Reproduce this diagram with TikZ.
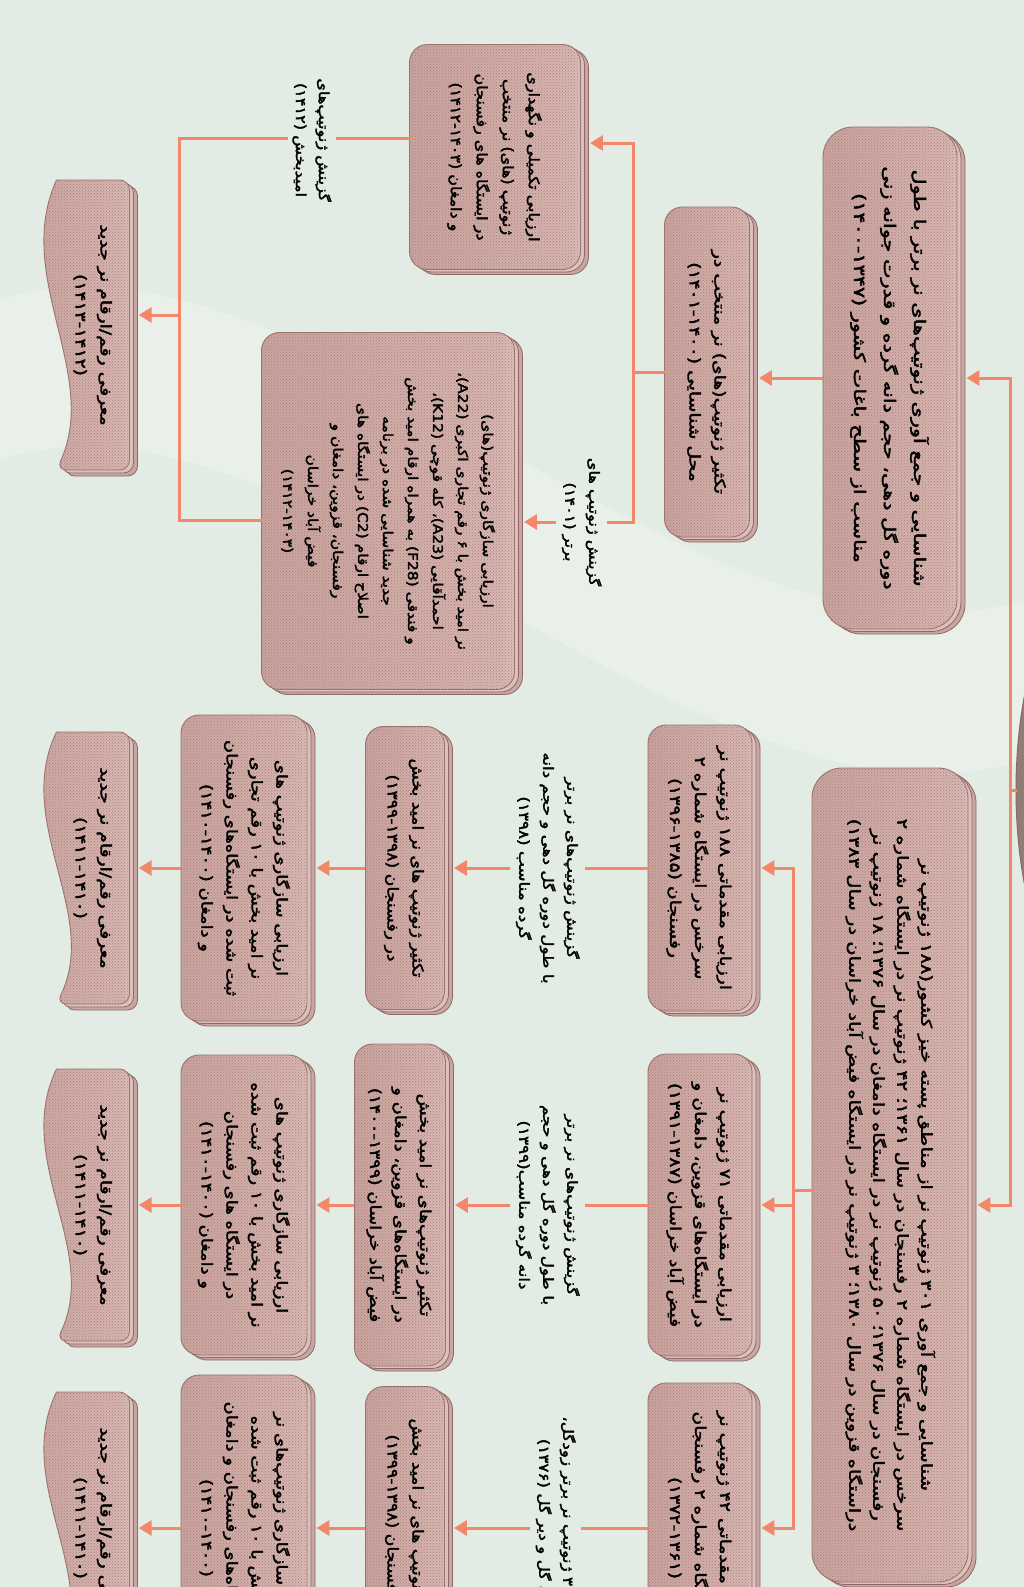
\documentclass[tikz,border=0pt]{standalone}
\usepackage{fontspec}
\usepackage{graphicx}
\usetikzlibrary{arrows.meta,shadows,patterns,calc,shapes.geometric}
\newfontfamily\fa[Script=Arabic,FakeBold=2.2]{DejaVu Sans}
\TeXXeTstate=1
\definecolor{bg}{HTML}{E2ECE4}
\definecolor{bgl}{HTML}{EEF4EF}
\definecolor{conn}{HTML}{F2876A}
\definecolor{bxA}{HTML}{C29993}
\definecolor{bxB}{HTML}{D8B6B1}
\definecolor{bxW}{HTML}{F8EFED}
\definecolor{bxC}{HTML}{CDA7A2}
\definecolor{edgec}{HTML}{9A736E}
\definecolor{lay1}{HTML}{DCC0BC}
\definecolor{lay2}{HTML}{C9A6A1}
\definecolor{layedge}{HTML}{8C6964}
\definecolor{dotc}{HTML}{A8807B}
\definecolor{rootc}{HTML}{8E7E75}
\pgfdeclarehorizontalshading{boxsh}{100bp}{color(0bp)=(bxA); color(72bp)=(bxB); color(87bp)=(bxW); color(94bp)=(bxB); color(100bp)=(bxC)}
\newcommand\RL[1]{\beginR#1\endR}
\newcommand\vt[4][1.25]{\rotatebox{-90}{\scalebox{#1}[1]{\fa\fontsize{#2}{#3}\selectfont\begin{tabular}{@{}c@{}}#4\end{tabular}}}}
\newcommand\docpath[4]{({#1-#3/2},{#2-#4/2}) [rounded corners=10pt] -- ({#1+#3/2},{#2-#4/2}) -- ({#1+#3/2},{#2+#4/2}) -- ({#1-#3/2},{#2+#4/2}) [sharp corners] .. controls ({#1-#3/2+0.6*#3},{#2+#4/6}) and ({#1-#3/2-0.6*#3},{#2-#4/6}) .. cycle}
\newcommand\docbox[6]{%
  \path[fill=lay2, draw=layedge, line width=0.8pt, shift={(8,6)}] \docpath{#2}{#3}{#4}{#5};
  \path[fill=lay1, draw=layedge, line width=0.8pt, shift={(4,3)}] \docpath{#2}{#3}{#4}{#5};
  \path[draw=edgec, line width=0.9pt, shading=boxsh, postaction={pattern=crosshatch dots, pattern color=dotc}] \docpath{#2}{#3}{#4}{#5};
  \node[inner sep=0pt, minimum width=#4, minimum height=#5] (#1) at (#2,#3) {#6};}
\begin{document}
\begin{tikzpicture}[x=1pt,y=-1pt,
  conn/.style={draw=conn, line width=3pt, line cap=rect},
  arr/.style={draw=conn, line width=3pt, -{Triangle[length=13pt,width=15pt]}},
  stk/.style={draw=edgec, line width=0.9pt, rounded corners=#1, shading=boxsh,
    general shadow={fill=lay2, draw=layedge, line width=0.8pt, shadow xshift=8pt, shadow yshift=-5pt},
    general shadow={fill=lay1, draw=layedge, line width=0.8pt, shadow xshift=4pt, shadow yshift=-2.5pt},
    postaction={pattern=crosshatch dots, pattern color=dotc}, inner sep=0pt},
  stk/.default=18pt,
  lbl/.style={inner sep=2pt}]
\useasboundingbox (0,0) rectangle (1024,1587);
\fill[bg] (0,0) rectangle (1024,1587);
\fill[bgl, opacity=0.6] (0,300) .. controls (300,200) and (700,700) .. (1024,600) -- (1024,760) .. controls (700,860) and (300,360) .. (0,460) -- cycle;

% root (partly outside the picture)
\node[ellipse, draw=layedge, line width=1pt, fill=rootc, minimum width=230, minimum height=500] (root) at (1131,790) {};

% level 1
\node[stk=30pt, minimum width=134, minimum height=502] (A) at (890,378) {\vt[1.3]{16}{30}{%
\RL{شناسایی و جمع آوری ژنوتیپ‌های نر برتر با طول}\\
\RL{دوره گل دهی، حجم دانه گرده و قدرت جوانه زنی}\\
\RL{مناسب از سطح باغات کشور (۱۴۰۰-۱۳۴۷)}}};
\node[stk=30pt, minimum width=156, minimum height=814] (B) at (890,1175) {\vt[1.3]{15}{24}{%
\RL{شناسایی و جمع آوری ۳۰۱ ژنوتیپ نر از مناطق پسته خیز کشور(۱۸۸ ژنوتیپ نر}\\
\RL{سرخس در ایستگاه شماره ۲ رفسنجان در سال ۱۳۶۱؛ ۴۲ ژنوتیپ نر در ایستگاه شماره ۲}\\
\RL{رفسنجان در سال ۱۳۷۶؛ ۵۰ ژنوتیپ نر در ایستگاه دامغان در سال ۱۳۷۶؛ ۱۸ ژنوتیپ نر}\\
\RL{دراستگاه قزوین در سال ۱۳۸۰؛ ۳ ژنوتیپ نر در ایستگاه فیض آباد خراسان در سال ۱۳۸۳)}}};

% branch A
\node[stk, minimum width=85, minimum height=330] (AC) at (707,372) {\vt{15}{25}{%
\RL{تکثیر ژنوتیپ(های) نر منتخب در}\\
\RL{محل شناسایی (۱۴۰۱-۱۴۰۰)}}};
\node[stk, minimum width=171, minimum height=225] (A1b) at (495,157) {\vt[1.1]{14.5}{26}{%
\RL{ارزیابی تکمیلی و نگهداری}\\
\RL{ژنوتیپ (های) نر منتخب}\\
\RL{در ایستگاه های رفسنجان}\\
\RL{و دامغان (۱۴۱۲-۱۴۰۳)}}};
\node[stk, minimum width=253, minimum height=357] (A2) at (388,511) {\vt[1.15]{13.5}{25}{%
\RL{ارزیابی سازگاری ژنوتیپ(های)}\\
\RL{نر امید بخش با ۶ رقم تجاری اکبری (A22)\kern0pt،}\\
\RL{احمدآقایی (A23)\kern0pt، کله قوچی (K12)\kern0pt،}\\
\RL{و فندقی (F28) به همراه ارقام امید بخش}\\
\RL{جدید شناسایی شده در برنامه}\\
\RL{اصلاح ارقام (C2) در ایستگاه های}\\
\RL{رفسنجان، قزوین، دامغان و}\\
\RL{فیض آباد خراسان}\\
\RL{(۱۴۱۲-۱۴۰۳)}}};
\docbox{A5}{93}{325}{73}{290}{\vt{15}{25}{%
\RL{معرفی رقم/ارقام نر جدید}\\
\RL{(۱۴۱۳-۱۴۱۲)}}}
\node[lbl] (LP) at (312,140) {\vt[1.15]{14}{23}{%
\RL{گزینش ژنوتیپ‌های}\\
\RL{امیدبخش (۱۴۱۲)}}};
\node[lbl] (LA) at (582,522) {\vt[1.15]{14}{24}{%
\RL{گزینش ژنوتیپ های}\\
\RL{برتر (۱۴۰۱)}}};

% branch B, column 2
\node[stk, minimum width=104, minimum height=286] (B1) at (700,868) {\vt{15}{25}{%
\RL{ارزیابی مقدماتی ۱۸۸ ژنوتیپ نر}\\
\RL{سرخس در ایستگاه شماره ۲}\\
\RL{رفسنجان (۱۳۹۶-۱۳۸۵)}}};
\node[stk, minimum width=104, minimum height=302] (B2) at (700,1205) {\vt{15}{25}{%
\RL{ارزیابی مقدماتی ۷۱ ژنوتیپ نر}\\
\RL{در ایستگاه‌های قزوین، دامغان و}\\
\RL{فیض آباد خراسان (۱۳۹۱-۱۳۸۷)}}};
\node[stk, minimum width=104, minimum height=290] (B3) at (700,1528) {\vt{15}{25}{%
\RL{ارزیابی مقدماتی ۴۲ ژنوتیپ نر}\\
\RL{در ایستگاه شماره ۲ رفسنجان}\\
\RL{(۱۳۷۲-۱۳۶۱)}}};
% labels
\node[lbl] (L1) at (548,868) {\vt[1.2]{14}{24}{%
\RL{گزینش ژنوتیپ‌های نر برتر}\\
\RL{با طول دوره گل دهی و حجم دانه}\\
\RL{گرده مناسب (۱۳۹۸)}}};
\node[lbl] (L2) at (548,1205) {\vt[1.2]{14}{24}{%
\RL{گزینش ژنوتیپ‌های نر برتر}\\
\RL{با طول دوره گل دهی و حجم}\\
\RL{دانه گرده مناسب(۱۳۹۹)}}};
\node[lbl] (L3) at (556,1528) {\vt[1.2]{14}{24}{%
\RL{گزینش ۳ ژنوتیپ نر برتر زودگل،}\\
\RL{میان گل و دیر گل (۱۳۷۶)}}};
% column 3
\node[stk, minimum width=79, minimum height=283] (C1) at (405,868) {\vt[1.15]{15}{25}{%
\RL{تکثیر ژنوتیپ های نر امید بخش}\\
\RL{در رفسنجان (۱۳۹۹-۱۳۹۸)}}};
\node[stk, minimum width=91, minimum height=322] (C2) at (400,1205) {\vt[1.2]{15}{25}{%
\RL{تکثیر ژنوتیپ‌های نر امید بخش}\\
\RL{در ایستگاه‌های قزوین، دامغان و}\\
\RL{فیض آباد خراسان (۱۴۰۰-۱۳۹۹)}}};
\node[stk, minimum width=79, minimum height=283] (C3) at (405,1528) {\vt[1.15]{15}{25}{%
\RL{تکثیر ژنوتیپ های نر امید بخش}\\
\RL{در رفسنجان (۱۳۹۹-۱۳۹۸)}}};
% column 4
\node[stk, minimum width=126, minimum height=306] (D1) at (244,868) {\vt[1.2]{15}{25}{%
\RL{ارزیابی سازگاری ژنوتیپ های}\\
\RL{نر امید بخش با ۱۰ رقم تجاری}\\
\RL{ثبت شده در ایستگاه‌های رفسنجان}\\
\RL{و دامغان (۱۴۱۰-۱۴۰۰)}}};
\node[stk, minimum width=126, minimum height=300] (D2) at (244,1205) {\vt[1.2]{15}{25}{%
\RL{ارزیابی سازگاری ژنوتیپ های}\\
\RL{نر امید بخش با ۱۰ رقم ثبت شده}\\
\RL{در ایستگاه های رفسنجان}\\
\RL{و دامغان (۱۴۱۰-۱۴۰۰)}}};
\node[stk, minimum width=126, minimum height=306] (D3) at (244,1528) {\vt[1.2]{15}{25}{%
\RL{ارزیابی سازگاری ژنوتیپ‌های نر}\\
\RL{امید بخش با ۱۰ رقم ثبت شده}\\
\RL{در ایستگاه‌های رفسنجان و دامغان}\\
\RL{(۱۴۱۰-۱۴۰۰)}}};
% column 5
\docbox{E1}{93}{868}{73}{272}{\vt{15}{25}{\RL{معرفی رقم/ارقام نر جدید}\\ \RL{(۱۴۱۱-۱۴۱۰)}}}
\docbox{E2}{93}{1205}{73}{272}{\vt{15}{25}{\RL{معرفی رقم/ارقام نر جدید}\\ \RL{(۱۴۱۱-۱۴۱۰)}}}
\docbox{E3}{93}{1528}{73}{272}{\vt{15}{25}{\RL{معرفی رقم/ارقام نر جدید}\\ \RL{(۱۴۱۱-۱۴۱۰)}}}

% connectors: root
\coordinate (rA) at (1010,378);
\coordinate (rB) at (1010,1205);
\coordinate (rM) at (1010,790);
\draw[conn] (rA) -- (rB);
\draw[conn] (root.west) -- (rM);
\draw[arr] (rA) -- ($(rA -| A.east)+(9,0)$);
\draw[arr] (rB) -- ($(rB -| B.east)+(9,0)$);

% branch A
\coordinate (abT) at (633,143);
\coordinate (abB) at (633,522);
\draw[arr] (A.west) -- ($(A.west -| AC.east)+(9,0)$);
\draw[conn] (AC.west) -- (AC.west -| abT);
\draw[conn] (abT) -- (abB);
\draw[arr] (abT) -- ($(abT -| A1b.east)+(9,0)$);
\draw[conn] (abB) -- (abB -| LA.east);
\draw[arr] (LA.west) -- ($(LA.west -| A2.east)+(9,0)$);
\coordinate (lbT) at (179,138);
\coordinate (lbB) at (179,520);
\coordinate (lbM) at (179,315);
\draw[conn] (lbT -| A1b.west) -- (lbT -| LP.east);
\draw[conn] (lbT -| LP.west) -- (lbT) -- (lbB) -- (lbB -| A2.west);
\draw[arr] (lbM) -- ($(lbM -| A5.east)+(9,0)$);

% branch B
\coordinate (bbT) at (793,868);
\coordinate (bbB) at (793,1528);
\coordinate (bbM) at (793,1190);
\draw[conn] (B.west |- bbM) -- (bbM);
\draw[conn] (bbT) -- (bbB);
\foreach \i in {1,2,3}{
  \draw[arr] (bbT |- B\i.east) -- ($(B\i.east)+(9,0)$);
  \draw[conn] (B\i.west) -- (B\i.west -| L\i.east);
  \draw[arr] (B\i.west -| L\i.west) -- ($(B\i.west -| C\i.east)+(9,0)$);
  \draw[arr] (C\i.west) -- ($(C\i.west -| D\i.east)+(9,0)$);
  \draw[arr] (D\i.west) -- ($(D\i.west -| E\i.east)+(9,0)$);
}
\end{tikzpicture}
\end{document}
